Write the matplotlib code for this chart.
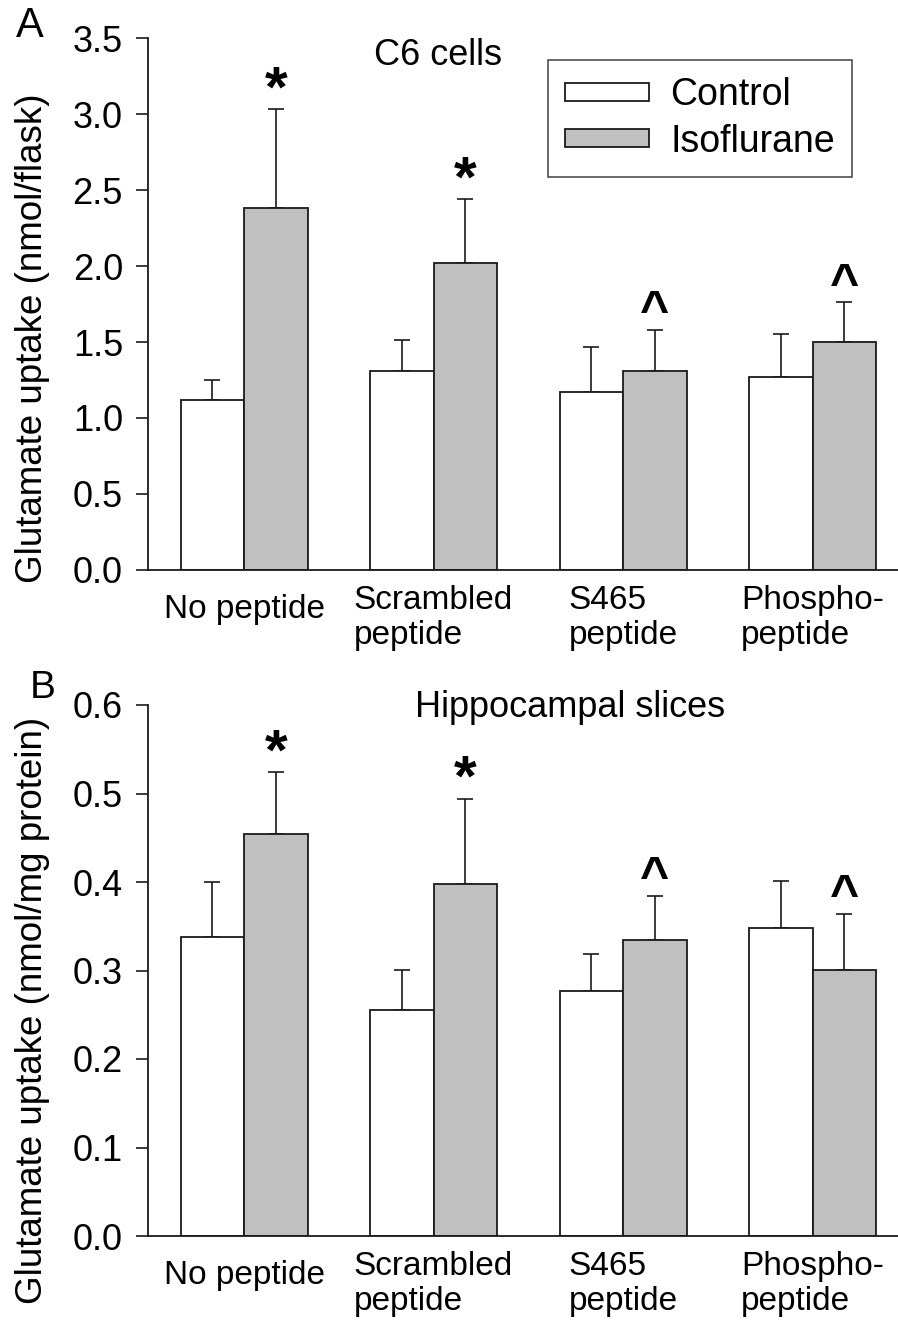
import matplotlib
matplotlib.use("Agg")
import matplotlib.pyplot as plt
import numpy as np

plt.rcParams['font.family'] = ['Liberation Sans', 'DejaVu Sans']

groups = ["No peptide", "Scrambled\npeptide", "S465\npeptide", "Phospho-\npeptide"]
series = ["Control", "Isoflurane"]

# panel A: C6 cells (nmol/flask)
c6_control = [1.12, 1.31, 1.17, 1.27]
c6_control_err = [0.13, 0.20, 0.30, 0.28]
c6_iso = [2.38, 2.02, 1.31, 1.50]
c6_iso_err = [0.65, 0.42, 0.27, 0.26]
c6_marks = ["*", "*", "^", "^"]

# panel B: hippocampal slices (nmol/mg protein)
hip_control = [0.338, 0.255, 0.277, 0.348]
hip_control_err = [0.062, 0.046, 0.042, 0.053]
hip_iso = [0.454, 0.398, 0.335, 0.301]
hip_iso_err = [0.070, 0.096, 0.049, 0.063]
hip_marks = ["*", "*", "^", "^"]

fig = plt.figure(figsize=(8.98, 13.21), dpi=100)
axA = fig.add_axes([148/898, 1 - 570/1321, 750/898, 532/1321])
axB = fig.add_axes([148/898, 1 - 1236/1321, 750/898, 531/1321])

w = 0.335
x = np.arange(len(groups))
edge = '#1a1a1a'


def draw_panel(ax, ctrl, ctrl_err, iso, iso_err, marks, ymax, ystep, ylabel, title, title_xy):
    ax.bar(x - w/2, ctrl, w, color='white', edgecolor=edge, linewidth=1.3, label=series[0], zorder=2)
    ax.bar(x + w/2, iso, w, color='#c0c0c0', edgecolor=edge, linewidth=1.3, label=series[1], zorder=2)
    ax.errorbar(x - w/2, ctrl, yerr=[np.zeros(len(ctrl)), ctrl_err], fmt='none',
                ecolor=edge, elinewidth=1.2, capsize=6, capthick=1.2, zorder=1)
    ax.errorbar(x + w/2, iso, yerr=[np.zeros(len(iso)), iso_err], fmt='none',
                ecolor=edge, elinewidth=1.2, capsize=6, capthick=1.2, zorder=1)
    for xi, v, e, m in zip(x, iso, iso_err, marks):
        if m == "*":
            ax.annotate(m, (xi + w/2, v + e), xytext=(0, 13), textcoords='offset points',
                        ha='center', va='center', fontsize=42, fontweight='bold')
        else:
            ax.annotate(m, (xi + w/2, v + e), xytext=(0, 12), textcoords='offset points',
                        ha='center', va='center', fontsize=36, fontweight='bold')
    ax.set_xlim(-0.507, 3.451)
    ax.set_ylim(0, ymax)
    ticks = np.arange(0, ymax + ystep/2, ystep)
    ax.set_yticks(ticks)
    ax.set_yticklabels([f"{t:.1f}" for t in ticks])
    ax.set_xticks([])
    for xi, g in zip(x, groups):
        off = 34.5 if "\n" in g else 28.5
        ax.annotate(g, (xi, 0), xycoords=('data', 'axes fraction'), xytext=(0, -off),
                    textcoords='offset points', ha='center', va='center',
                    multialignment='left', fontsize=24)
    ax.tick_params(axis='y', length=9, width=1.2, labelsize=26, pad=9, color=edge)
    for s in ['top', 'right']:
        ax.spines[s].set_visible(False)
    for s in ['left', 'bottom']:
        ax.spines[s].set_linewidth(1.3)
        ax.spines[s].set_color(edge)
    ax.set_ylabel(ylabel, fontsize=26.5)
    ax.text(title_xy[0], title_xy[1], title, transform=ax.transAxes, ha='center', va='center', fontsize=26)


draw_panel(axA, c6_control, c6_control_err, c6_iso, c6_iso_err, c6_marks, 3.5, 0.5,
           "Glutamate uptake (nmol/flask)", "C6 cells", (0.386, 0.968))
draw_panel(axB, hip_control, hip_control_err, hip_iso, hip_iso_err, hip_marks, 0.6, 0.1,
           "Glutamate uptake (nmol/mg protein)", "Hippocampal slices", (0.563, 0.996))

axA.yaxis.set_label_coords(-0.13, 0.436)
axB.yaxis.set_label_coords(-0.13, 0.425)

leg = axA.legend(loc='upper left', bbox_to_anchor=(0.533, 0.9586), borderaxespad=0,
                 fontsize=27, frameon=True, fancybox=False, handlelength=2.25, handleheight=0.36,
                 handletextpad=0.55, labelspacing=0.28, borderpad=0.46)
leg.get_frame().set_edgecolor('#222222')
leg.get_frame().set_linewidth(1.2)

fig.text(16/898, 1 - 26/1321, "A", fontsize=30, ha='left', va='center')
fig.text(30/898, 1 - 688/1321, "B", fontsize=28, ha='left', va='center')

fig.savefig("out.png", dpi=100)
